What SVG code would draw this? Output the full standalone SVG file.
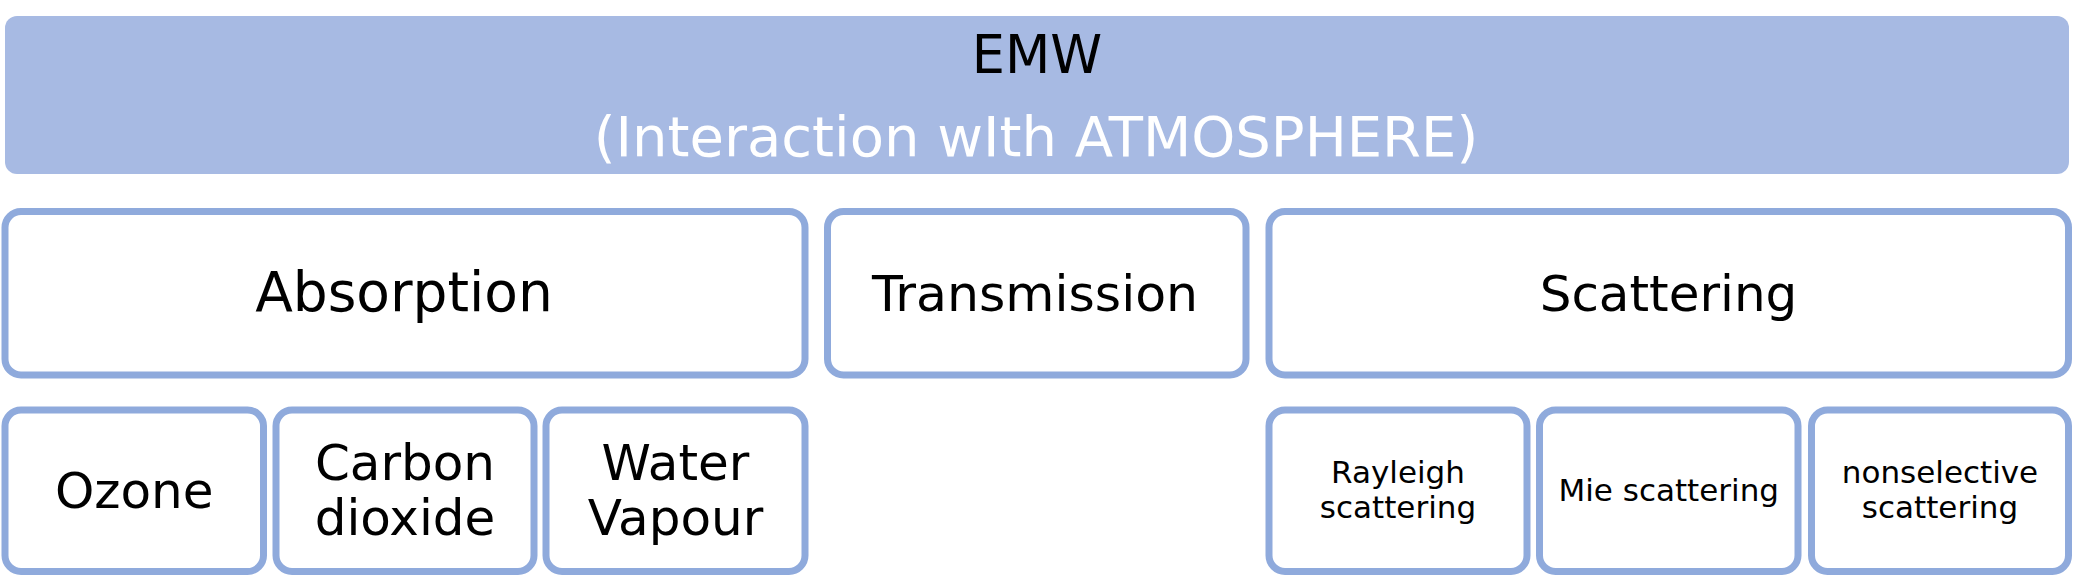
<svg xmlns="http://www.w3.org/2000/svg" width="2074" height="576" viewBox="0 0 2074 576">
<style>
  .box { fill: #FFFFFF; stroke: #8FAADC; stroke-width: 7; }
  .hdr { fill: #A7BAE3; }
  text { font-family: "DejaVu Sans", Verdana, sans-serif; text-anchor: middle; fill: #000000; }
  .t55 { font-size: 55px; }
  .t50 { font-size: 50px; }
  .t31 { font-size: 31px; }
  .white { fill: #FFFFFF; }
</style>
<rect width="2074" height="576" fill="#FFFFFF"/>
<g id="emw">
  <rect class="hdr" x="5" y="16" width="2064" height="158" rx="12" ry="12"/>
  <text x="1037" y="73" style="font-size:52.5px">EMW</text>
  <text class="white" x="1036" y="156" style="font-size:56px">(Interaction wIth ATMOSPHERE)</text>
</g>
<g id="absorption">
  <rect class="box" x="5" y="211.5" width="800" height="163.5" rx="16" ry="16"/>
  <text class="t55" x="404" y="311">Absorption</text>
</g>
<g id="transmission">
  <rect class="box" x="827.5" y="211.5" width="418.5" height="163.5" rx="16" ry="16"/>
  <text x="1035" y="311" style="font-size:50.5px">Transmission</text>
</g>
<g id="scattering">
  <rect class="box" x="1269" y="211.5" width="799.5" height="163.5" rx="16" ry="16"/>
  <text x="1668.5" y="310.5" style="font-size:50px">Scattering</text>
</g>
<g id="ozone">
  <rect class="box" x="5" y="410" width="258.5" height="161.5" rx="16" ry="16"/>
  <text class="t50" x="134.25" y="508">Ozone</text>
</g>
<g id="carbon-dioxide">
  <rect class="box" x="276" y="410" width="258" height="161.5" rx="16" ry="16"/>
  <text class="t50" x="405" y="480">Carbon</text>
  <text class="t50" x="405" y="535">dioxide</text>
</g>
<g id="water-vapour">
  <rect class="box" x="546" y="410" width="259" height="161.5" rx="16" ry="16"/>
  <text class="t50" x="675.5" y="480">Water</text>
  <text class="t50" x="675.5" y="535">Vapour</text>
</g>
<g id="rayleigh">
  <rect class="box" x="1269" y="410" width="258" height="161.5" rx="16" ry="16"/>
  <text class="t31" x="1398" y="483">Rayleigh</text>
  <text class="t31" x="1398" y="518">scattering</text>
</g>
<g id="mie">
  <rect class="box" x="1539.5" y="410" width="258.5" height="161.5" rx="16" ry="16"/>
  <text class="t31" x="1668.75" y="501">Mie scattering</text>
</g>
<g id="nonselective">
  <rect class="box" x="1811.5" y="410" width="257" height="161.5" rx="16" ry="16"/>
  <text class="t31" x="1940" y="483">nonselective</text>
  <text class="t31" x="1940" y="518">scattering</text>
</g>
<g id="connectors"></g>
</svg>
